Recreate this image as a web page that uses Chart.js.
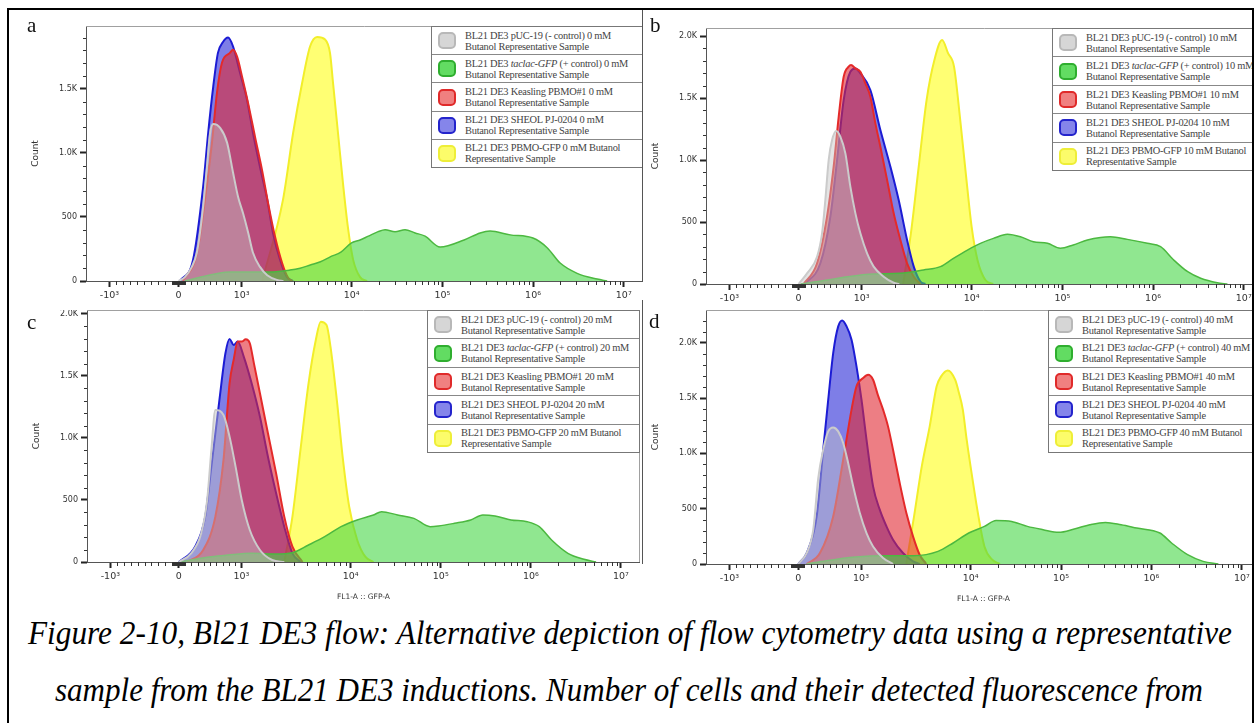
<!DOCTYPE html>
<html>
<head>
<meta charset="utf-8">
<script src="https://cdn.jsdelivr.net/npm/chart.js@4.4.0/dist/chart.umd.min.js"></script>
<style>
html, body { margin: 0; padding: 0; background: #fff; width: 1255px; height: 723px; overflow: hidden; }
#clip { position: absolute; left: 0; top: 0; width: 1253px; height: 723px; overflow: hidden; }
.panel { position: absolute; }
.tag { position: absolute; font-family: 'Liberation Serif', serif; font-size: 21px; line-height: 21px; color: #111; }
.legend { position: absolute; border: 1.5px solid #777; background: #fff; display: flex; flex-direction: column; box-sizing: border-box; }
.row { flex: 1; position: relative; border-top: 1px solid #888; }
.row:first-child { border-top: none; }
.sw { position: absolute; left: 6px; top: 50%; width: 14px; height: 13px; margin-top: -8.5px; border: 2px solid; border-radius: 5px; }
.txt { position: absolute; left: 33px; top: 50%; transform: translateY(-50%); font-family: 'Liberation Serif', serif; font-size: 10.4px; letter-spacing: -0.25px; line-height: 11px; color: #444; white-space: nowrap; }
#frame { position: absolute; left: 7px; top: 8px; width: 1247px; height: 760px; border: 2px solid #000; box-sizing: border-box; pointer-events: none; }
.sep { position: absolute; left: 642px; width: 1px; background: #555; }
.cap { position: absolute; font-family: 'Liberation Serif', serif; font-style: italic; font-size: 34px; line-height: 34px; white-space: nowrap; color: #000; transform-origin: 0 0; }
</style>
</head>
<body>
<div id="clip"></div>
<div class="sep" style="top:9px;height:272px"></div>
<div class="sep" style="top:300px;height:264px"></div>
<div class="cap" style="left:28px;top:616px" data-w="1204">Figure 2-10, Bl21 DE3 flow: Alternative depiction of flow cytometry data using a representative</div>
<div class="cap" style="left:55px;top:673px" data-w="1148">sample from the BL21 DE3 inductions. Number of cells and their detected fluorescence from</div>
<div id="frame"></div>
<script>
// axis ticks (fluorescence units, biexponential display)
const X_TICK_VALUES = [-1000, 0, 1000, 10000, 100000, 1000000, 10000000];
const X_TICK_LABELS = ['-10³', '0', '10³', '10⁴', '10⁵', '10⁶', '10⁷'];
const Y_TICK_VALUES = [0, 500, 1000, 1500, 2000];
const Y_TICK_LABELS = ['0', '500', '1.0K', '1.5K', '2.0K'];
const Y_MAX = [1990, 2065, 2032, 2296];

const PANEL_TAGS = ['a', 'b', 'c', 'd'];
const CONCENTRATIONS = [0, 10, 20, 40];
const SAMPLE_NAMES = [
    'BL21 DE3 pUC-19 (- control) {c} mM|Butanol Representative Sample',
    'BL21 DE3 <i>taclac-GFP</i> (+ control) {c} mM|Butanol Representative Sample',
    'BL21 DE3 Keasling PBMO#1 {c} mM|Butanol Representative Sample',
    'BL21 DE3 SHEOL PJ-0204 {c} mM|Butanol Representative Sample',
    'BL21 DE3 PBMO-GFP {c} mM Butanol|Representative Sample'
];

// [FL1-A value, count] -- panel a, 0 mM
const grayA = [[0,0],[100,30],[210,110],[290,220],[340,375],[390,580],[450,890],[500,1155],[550,1225],[660,1195],[770,1080],[865,845],[945,655],[1030,530],[1150,375],[1270,220],[1470,110],[1710,45],[2100,8],[2400,0]];
const greenA = [[100,0],[340,30],[580,55],[820,70],[1200,70],[1820,70],[2750,85],[3400,100],[4210,125],[5210,150],[6450,190],[7990,225],[9890,295],[12400,320],[15300,350],[19600,385],[23400,400],[30100,385],[38800,400],[50100,375],[64500,350],[94500,265],[174000,320],[261000,375],[336000,390],[559000,360],[997000,335],[1430000,260],[1990000,140],[3060000,60],[5090000,15],[6560000,0]];
const redA = [[70,0],[295,220],[420,635],[530,1080],[610,1470],[690,1705],[815,1780],[865,1805],[930,1750],[1010,1595],[1145,1390],[1325,1125],[1535,865],[1740,610],[2015,345],[2335,140],[2645,25],[2900,0]];
const blueA = [[20,0],[230,165],[390,735],[470,1155],[550,1515],[625,1780],[705,1865],[785,1900],[865,1830],[975,1625],[1120,1415],[1270,1155],[1470,890],[1710,635],[1930,375],[2240,165],[2590,30],[2940,0]];
const yellowA = [[1540,0],[2380,635],[2940,1155],[3550,1545],[4190,1830],[4860,1905],[5740,1885],[6360,1780],[6780,1545],[7520,1155],[8340,765],[9250,420],[10400,165],[12400,30],[14800,0]];

// panel b, 10 mM
const grayB = [[0,0],[135,86],[294,220],[373,409],[425,677],[478,1000],[532,1161],[600,1234],[663,1188],[743,1054],[822,785],[902,570],[981,409],[1122,247],[1288,140],[1589,59],[1958,10],[2200,0]];
const greenB = [[30,0],[457,32],[775,59],[1280,81],[2253,86],[3651,113],[5203,140],[6837,207],[9160,274],[12500,328],[17400,368],[24800,401],[34500,381],[48000,341],[68600,328],[95100,288],[132000,315],[189000,355],[264000,376],[339000,381],[521000,360],[866000,328],[1210000,301],[1690000,194],[2410000,99],[3350000,46],[5100000,10],[6600000,0]];
const redB = [[81,0],[294,167],[452,543],[557,946],[637,1349],[716,1672],[795,1753],[833,1766],[902,1739],[981,1712],[1083,1618],[1202,1511],[1335,1296],[1482,1107],[1706,839],[1958,570],[2253,355],[2591,167],[2980,59],[3425,0]];
const blueB = [[100,0],[346,167],[505,543],[611,1000],[716,1484],[822,1712],[902,1739],[981,1699],[1202,1565],[1482,1242],[1828,946],[2174,677],[2591,355],[2980,140],[3425,19],[3800,0]];
const yellowB = [[2383,0],[2807,409],[3305,946],[3897,1484],[4590,1807],[5390,1968],[6117,1860],[6920,1753],[7823,1349],[8851,893],[10000,462],[11600,194],[14200,32],[17300,0]];

// panel c, 20 mM
const grayC = [[0,0],[195,70],[357,231],[452,500],[519,903],[583,1226],[713,1185],[810,1011],[906,769],[1006,500],[1192,258],[1476,97],[1910,16],[2465,0]];
const greenC = [[0,0],[519,43],[778,56],[1239,70],[2076,65],[2928,75],[4112,137],[5777,204],[8153,285],[11800,339],[17900,379],[22000,406],[33200,379],[50300,352],[76300,285],[93900,290],[142000,312],[215000,339],[293000,379],[400000,371],[602000,339],[912000,325],[1240000,285],[1700000,177],[2580000,70],[3890000,22],[5300000,0]];
const redC = [[130,0],[389,97],[583,366],[713,823],[810,1441],[875,1629],[940,1777],[1006,1777],[1094,1796],[1192,1764],[1300,1602],[1476,1361],[1747,1038],[2076,715],[2465,366],[2928,124],[3621,0]];
const blueC = [[0,0],[259,124],[421,366],[519,769],[648,1307],[744,1683],[810,1798],[875,1750],[940,1777],[1049,1656],[1239,1441],[1476,1172],[1747,849],[2076,554],[2465,285],[2928,70],[3466,0]];
const yellowC = [[2465,0],[2928,366],[3466,903],[4112,1441],[4792,1790],[5313,1938],[6010,1911],[6530,1737],[7461,1307],[8499,823],[9684,446],[11800,177],[14500,43],[17900,0]];

// panel d, 40 mM
const grayD = [[0,0],[135,99],[240,310],[319,777],[398,1033],[478,1199],[557,1235],[637,1199],[716,1094],[795,913],[875,702],[981,461],[1122,280],[1288,159],[1589,54],[1958,0]];
const greenD = [[135,0],[450,30],[911,63],[1579,75],[3046,75],[5036,114],[6920,190],[9612,280],[14200,340],[19100,394],[28400,385],[42400,340],[63300,310],[94100,286],[140000,316],[208000,355],[310000,376],[462000,355],[687000,325],[1240000,280],[1670000,190],[2510000,84],[3730000,24],[5500000,0]];
const redD = [[135,0],[346,99],[557,430],[716,943],[849,1395],[928,1606],[1045,1681],[1160,1711],[1288,1666],[1421,1531],[1589,1395],[1763,1244],[1958,1033],[2253,732],[2591,461],[2980,250],[3425,84],[3940,0]];
const blueD = [[0,0],[135,99],[294,430],[398,1033],[478,1485],[557,1907],[637,2148],[700,2202],[770,2148],[849,2028],[928,1786],[1010,1485],[1122,1124],[1288,702],[1482,491],[1706,340],[1958,220],[2414,99],[2980,24],[3425,0]];
const yellowD = [[2586,0],[3046,430],[3582,882],[4231,1244],[4895,1606],[5379,1696],[6175,1750],[7216,1666],[7823,1546],[8480,1395],[9197,1124],[10500,762],[12200,430],[14200,159],[17300,39],[21100,0]];

const PANEL_DATA = [
    [grayA, greenA, redA, blueA, yellowA],
    [grayB, greenB, redB, blueB, yellowB],
    [grayC, greenC, redC, blueC, yellowC],
    [grayD, greenD, redD, blueD, yellowD]
];

const LINE_COLORS = ['#cbcbcb', '#4cb840', '#e42a2a', '#1c1cd4', '#f2ee2a'];
const FILL_COLORS = ['rgba(195,195,195,0.45)', 'rgba(70,215,70,0.6)', 'rgba(225,40,50,0.6)', 'rgba(40,40,215,0.6)', 'rgba(255,255,40,0.65)'];
const SWATCH_FILL = ['#d6d6d6', '#62dc62', '#f08080', '#8585ea', '#fcfc6a'];
const SWATCH_EDGE = ['#b8b8b8', '#2fae2f', '#e02a2a', '#2424cc', '#eeee38'];

// layout of the four panels (canvas box + legend box)
const LAYOUT = [
    { left: 24, top: 26, width: 619, height: 279, xh: 24, xTitle: false, legend: [431, 26, 212, 142], tag: [27, 15] },
    { left: 643.7, top: 28, width: 619, height: 280, xh: 24, xTitle: false, legend: [1052, 28, 212, 143], tag: [650, 15] },
    { left: 25, top: 310, width: 615, height: 295, xh: 43, xTitle: true, legend: [427, 310, 213, 143], tag: [27, 312] },
    { left: 644, top: 310, width: 617, height: 297, xh: 43, xTitle: true, legend: [1048, 310, 212, 143], tag: [649, 311] }
];

const X_MIN = -1.02, X_MAX = 5.12;

// biexponential-like display transform: linear around zero, log above 10^3
function toAxis(v) {
    if (v <= 0) return v / 1000 * 0.761;
    if (v <= 1000) return v / 1000 * 0.695;
    if (v <= 10000) return 0.695 + Math.log10(v / 1000) * 1.213;
    return 1.908 + Math.log10(v / 10000);
}

// minor tick values
const X_MINOR = [];
for (let k = 1; k <= 9; k++) X_MINOR.push(-100 * k, -10 * k, 10 * k, 100 * k);
for (let d = 3; d <= 6; d++) for (let k = 2; k <= 9; k++) X_MINOR.push(k * Math.pow(10, d));

const extras = {
    id: 'extras',
    afterDraw(chart) {
        const { ctx, chartArea: a, scales: { x, y } } = chart;
        ctx.save();
        ctx.strokeStyle = '#a0a0a0';
        ctx.lineWidth = 1;
        ctx.beginPath();
        ctx.moveTo(a.left, a.top + 0.5);
        ctx.lineTo(a.right - 0.5, a.top + 0.5);
        ctx.lineTo(a.right - 0.5, a.bottom);
        ctx.stroke();
        ctx.strokeStyle = '#333';
        ctx.beginPath();
        X_MINOR.forEach(v => {
            const px = Math.round(x.getPixelForValue(toAxis(v))) + 0.5;
            ctx.moveTo(px, a.bottom);
            ctx.lineTo(px, a.bottom + 4);
        });
        for (let c = 100; c < y.max; c += 100) {
            if (c % 500 === 0) continue;
            const py = Math.round(y.getPixelForValue(c)) + 0.5;
            ctx.moveTo(a.left - 3, py);
            ctx.lineTo(a.left, py);
        }
        ctx.stroke();
        ctx.restore();
    }
};

const clip = document.getElementById('clip');

LAYOUT.forEach((L, p) => {
    const box = document.createElement('div');
    box.className = 'panel';
    box.style.left = L.left + 'px';
    box.style.top = L.top + 'px';
    const cv = document.createElement('canvas');
    cv.width = L.width;
    cv.height = L.height;
    box.appendChild(cv);
    clip.appendChild(box);

    const datasets = PANEL_DATA[p].map((series, i) => ({
        label: SAMPLE_NAMES[i].replace('{c}', CONCENTRATIONS[p]).replace(/<\/?i>/g, '').replace('|', ' '),
        data: series.map(([v, c]) => ({ x: toAxis(v), y: c })),
        borderColor: LINE_COLORS[i],
        backgroundColor: FILL_COLORS[i],
        borderWidth: i === 1 ? 1.5 : 2,
        fill: 'origin',
        pointRadius: 0,
        cubicInterpolationMode: 'monotone'
    }));

    new Chart(cv, {
        type: 'line',
        data: { datasets },
        options: {
            responsive: false,
            animation: false,
            layout: { padding: 0 },
            plugins: { legend: { display: false }, tooltip: { enabled: false } },
            scales: {
                x: {
                    type: 'linear',
                    min: X_MIN,
                    max: X_MAX,
                    afterBuildTicks: s => { s.ticks = X_TICK_VALUES.map(v => ({ value: toAxis(v) })); },
                    afterFit: s => { s.height = L.xh; s.paddingLeft = 0; s.paddingRight = 0; },
                    ticks: {
                        autoSkip: false, maxRotation: 0, padding: 3,
                        color: '#333', font: { family: 'DejaVu Sans', size: 9.5 },
                        callback: (v, i) => X_TICK_LABELS[i]
                    },
                    grid: { drawOnChartArea: false, tickLength: 6, tickWidth: 2, tickColor: '#222' },
                    border: { color: '#555', width: 1 },
                    title: {
                        display: L.xTitle, text: 'FL1-A :: GFP-A', color: '#333',
                        font: { family: 'DejaVu Sans', size: 7.5 }, padding: { top: 0, bottom: 3 }
                    }
                },
                y: {
                    min: 0,
                    max: Y_MAX[p],
                    afterBuildTicks: s => { s.ticks = Y_TICK_VALUES.filter(v => v <= Y_MAX[p]).map(v => ({ value: v })); },
                    afterFit: s => { s.width = 62; s.paddingTop = 0; s.paddingBottom = 0; },
                    ticks: {
                        padding: 3, color: '#333', font: { family: 'DejaVu Sans', size: 8 },
                        callback: v => Y_TICK_LABELS[Y_TICK_VALUES.indexOf(v)]
                    },
                    grid: { drawOnChartArea: false, tickLength: 6, tickWidth: 2, tickColor: '#222' },
                    border: { color: '#555', width: 1 },
                    title: {
                        display: true, text: 'Count', color: '#333',
                        font: { family: 'DejaVu Sans', size: 9 }, padding: { top: 6 }
                    }
                }
            }
        },
        plugins: [extras]
    });

    // legend box
    const [lx, ly, lw, lh] = L.legend;
    const lg = document.createElement('div');
    lg.className = 'legend';
    lg.style.cssText = `left:${lx}px;top:${ly}px;width:${lw}px;height:${lh}px`;
    SAMPLE_NAMES.forEach((name, i) => {
        const row = document.createElement('div');
        row.className = 'row';
        const sw = document.createElement('span');
        sw.className = 'sw';
        sw.style.background = SWATCH_FILL[i];
        sw.style.borderColor = SWATCH_EDGE[i];
        const txt = document.createElement('div');
        txt.className = 'txt';
        txt.innerHTML = name.replace('{c}', CONCENTRATIONS[p]).replace('|', '<br>');
        row.appendChild(sw);
        row.appendChild(txt);
        lg.appendChild(row);
    });
    clip.appendChild(lg);

    const tag = document.createElement('div');
    tag.className = 'tag';
    tag.style.left = L.tag[0] + 'px';
    tag.style.top = L.tag[1] + 'px';
    tag.textContent = PANEL_TAGS[p];
    clip.appendChild(tag);
});

// squeeze caption lines to the reference widths
document.querySelectorAll('.cap').forEach(el => {
    const w = el.getBoundingClientRect().width;
    el.style.transform = `scaleX(${Number(el.dataset.w) / w})`;
});
</script>
</body>
</html>
